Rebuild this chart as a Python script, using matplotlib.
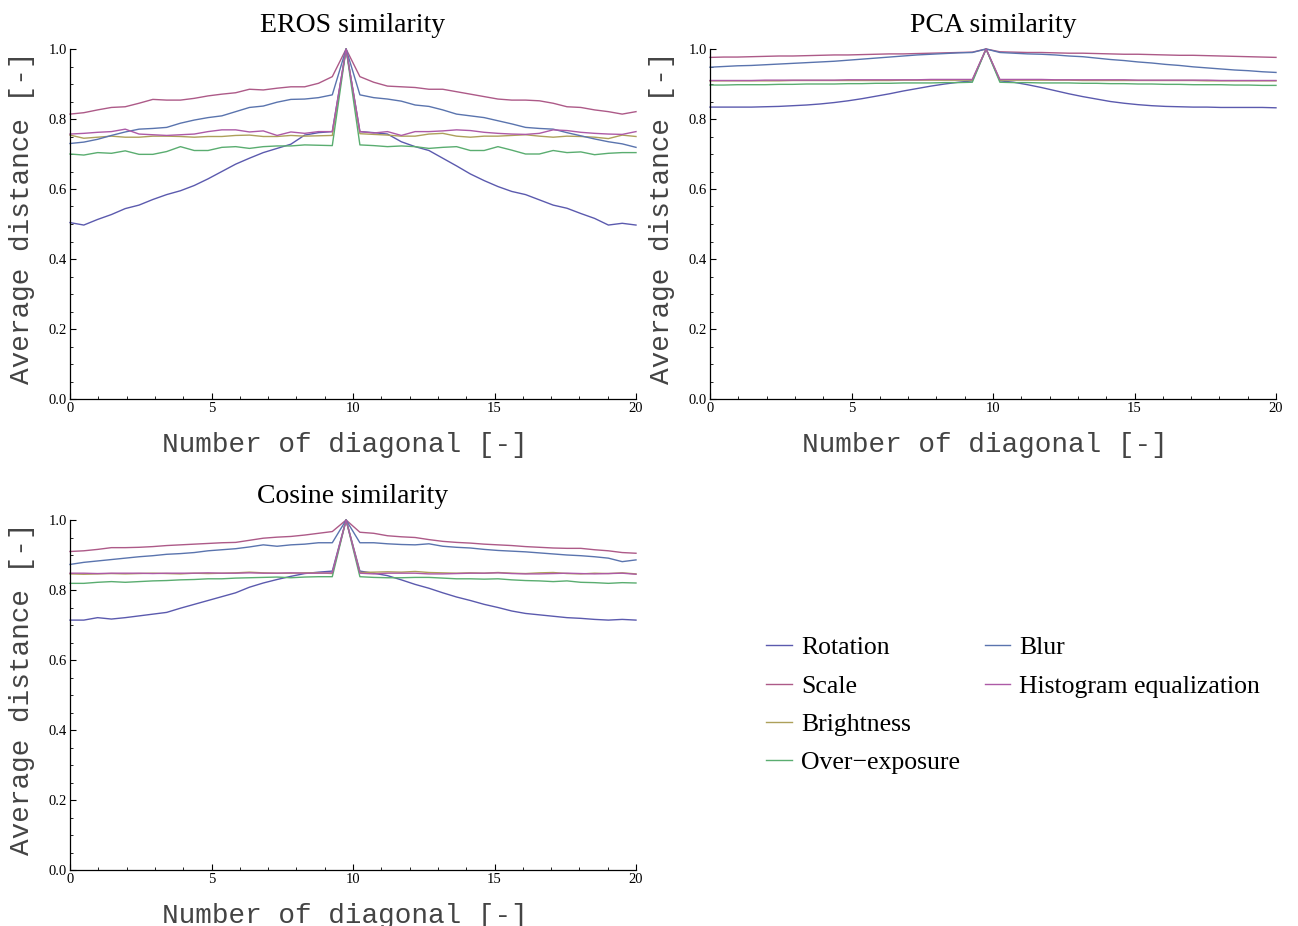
import numpy as np
import matplotlib
matplotlib.use("Agg")
from matplotlib import pyplot as plt
from matplotlib.lines import Line2D
from matplotlib.ticker import MultipleLocator, FormatStrFormatter

# 42 diagonals spread over 0..20, main diagonal at index 20
diagonal = np.linspace(0, 20, 42)

series_names = ["Rotation", "Scale", "Brightness", "Over\u2212exposure", "Blur", "Histogram equalization"]
# Mathematica default palette
series_colors = ["#5b5aae", "#ad5a88", "#ada05a", "#5aad70", "#5a74ae", "#ad5aa6"]

eros_rotation = [0.504, 0.497, 0.513, 0.527, 0.544, 0.554, 0.570, 0.584, 0.595, 0.610, 0.629, 0.650, 0.671, 0.688,
                 0.704, 0.716, 0.728, 0.754, 0.761, 0.764, 1.0,
                 0.764, 0.761, 0.757, 0.735, 0.721, 0.710, 0.688, 0.666, 0.643, 0.624, 0.607, 0.593, 0.584, 0.569,
                 0.554, 0.545, 0.530, 0.516, 0.497, 0.502, 0.497]
eros_scale = [0.814, 0.818, 0.826, 0.833, 0.835, 0.845, 0.856, 0.854, 0.854, 0.859, 0.866, 0.871, 0.875, 0.885,
              0.883, 0.888, 0.892, 0.892, 0.902, 0.921, 1.0,
              0.921, 0.905, 0.894, 0.892, 0.890, 0.885, 0.885, 0.878, 0.871, 0.864, 0.857, 0.854, 0.854, 0.852,
              0.845, 0.835, 0.833, 0.826, 0.821, 0.814, 0.821]
eros_brightness = [0.754, 0.745, 0.748, 0.751, 0.748, 0.748, 0.751, 0.751, 0.750, 0.748, 0.750, 0.750, 0.753, 0.754,
                   0.750, 0.750, 0.753, 0.751, 0.752, 0.753, 1.0,
                   0.758, 0.756, 0.754, 0.751, 0.751, 0.757, 0.759, 0.751, 0.748, 0.751, 0.751, 0.753, 0.755, 0.751,
                   0.748, 0.751, 0.750, 0.748, 0.744, 0.754, 0.750]
eros_overexposure = [0.700, 0.697, 0.704, 0.702, 0.709, 0.699, 0.699, 0.707, 0.721, 0.710, 0.710, 0.719, 0.721, 0.716,
                     0.721, 0.723, 0.723, 0.726, 0.725, 0.724, 1.0,
                     0.726, 0.724, 0.721, 0.723, 0.721, 0.716, 0.719, 0.721, 0.710, 0.710, 0.721, 0.711, 0.700, 0.700,
                     0.710, 0.704, 0.706, 0.698, 0.702, 0.704, 0.704]
eros_blur = [0.730, 0.734, 0.742, 0.753, 0.763, 0.771, 0.773, 0.776, 0.788, 0.797, 0.804, 0.809, 0.821, 0.833,
             0.837, 0.848, 0.856, 0.857, 0.861, 0.869, 1.0,
             0.869, 0.861, 0.857, 0.851, 0.840, 0.836, 0.826, 0.814, 0.809, 0.804, 0.795, 0.786, 0.776, 0.773,
             0.771, 0.761, 0.752, 0.743, 0.735, 0.729, 0.719]
eros_histeq = [0.757, 0.759, 0.762, 0.764, 0.771, 0.757, 0.755, 0.753, 0.755, 0.757, 0.764, 0.769, 0.769, 0.763,
               0.766, 0.753, 0.763, 0.759, 0.764, 0.764, 1.0,
               0.764, 0.760, 0.764, 0.753, 0.764, 0.764, 0.766, 0.769, 0.767, 0.762, 0.759, 0.757, 0.756, 0.759,
               0.769, 0.767, 0.762, 0.759, 0.757, 0.756, 0.764]

pca_rotation = [0.834, 0.834, 0.834, 0.834, 0.835, 0.836, 0.838, 0.840, 0.843, 0.847, 0.852, 0.858, 0.865, 0.872,
                0.880, 0.887, 0.894, 0.900, 0.905, 0.909, 1.0,
                0.909, 0.905, 0.898, 0.890, 0.881, 0.872, 0.864, 0.857, 0.850, 0.845, 0.841, 0.838, 0.836, 0.835,
                0.834, 0.834, 0.833, 0.833, 0.833, 0.833, 0.832]
pca_scale = [0.976, 0.977, 0.977, 0.978, 0.979, 0.980, 0.980, 0.981, 0.982, 0.983, 0.983, 0.984, 0.985, 0.986,
             0.986, 0.987, 0.988, 0.989, 0.990, 0.991, 1.0,
             0.992, 0.991, 0.990, 0.990, 0.989, 0.988, 0.988, 0.987, 0.986, 0.985, 0.985, 0.984, 0.983, 0.982,
             0.982, 0.981, 0.980, 0.979, 0.978, 0.977, 0.976]
pca_brightness = [0.909, 0.909, 0.909, 0.909, 0.909, 0.909, 0.910, 0.910, 0.910, 0.910, 0.910, 0.910, 0.910, 0.910,
                  0.911, 0.911, 0.911, 0.911, 0.911, 0.911, 1.0,
                  0.911, 0.911, 0.911, 0.911, 0.911, 0.911, 0.910, 0.910, 0.910, 0.910, 0.910, 0.910, 0.910, 0.910,
                  0.910, 0.909, 0.909, 0.909, 0.909, 0.909, 0.909]
pca_overexposure = [0.897, 0.897, 0.898, 0.898, 0.898, 0.899, 0.899, 0.900, 0.900, 0.900, 0.901, 0.901, 0.902, 0.902,
                    0.903, 0.903, 0.903, 0.904, 0.904, 0.905, 1.0,
                    0.905, 0.904, 0.904, 0.903, 0.903, 0.903, 0.902, 0.902, 0.901, 0.901, 0.900, 0.900, 0.899, 0.899,
                    0.898, 0.898, 0.898, 0.897, 0.897, 0.896, 0.896]
pca_blur = [0.948, 0.950, 0.952, 0.953, 0.955, 0.957, 0.959, 0.961, 0.963, 0.965, 0.968, 0.971, 0.974, 0.977,
            0.980, 0.983, 0.985, 0.987, 0.989, 0.990, 1.0,
            0.990, 0.988, 0.986, 0.985, 0.983, 0.980, 0.978, 0.974, 0.970, 0.967, 0.963, 0.960, 0.956, 0.953,
            0.949, 0.946, 0.943, 0.940, 0.938, 0.935, 0.933]
pca_histeq = [0.910, 0.910, 0.910, 0.910, 0.911, 0.911, 0.911, 0.911, 0.911, 0.911, 0.912, 0.912, 0.912, 0.912,
              0.912, 0.912, 0.913, 0.913, 0.913, 0.913, 1.0,
              0.913, 0.913, 0.913, 0.913, 0.912, 0.912, 0.912, 0.912, 0.912, 0.912, 0.911, 0.911, 0.911, 0.911,
              0.911, 0.911, 0.910, 0.910, 0.910, 0.910, 0.910]

cos_rotation = [0.714, 0.714, 0.721, 0.717, 0.721, 0.726, 0.731, 0.736, 0.748, 0.759, 0.770, 0.781, 0.792, 0.808,
                0.820, 0.830, 0.839, 0.847, 0.851, 0.854, 1.0,
                0.854, 0.848, 0.841, 0.829, 0.816, 0.805, 0.792, 0.780, 0.770, 0.759, 0.750, 0.740, 0.733, 0.729,
                0.725, 0.721, 0.719, 0.716, 0.714, 0.716, 0.714]
cos_scale = [0.910, 0.912, 0.916, 0.921, 0.921, 0.922, 0.924, 0.927, 0.929, 0.931, 0.933, 0.935, 0.936, 0.942,
             0.948, 0.951, 0.953, 0.957, 0.962, 0.967, 1.0,
             0.965, 0.962, 0.955, 0.952, 0.950, 0.944, 0.939, 0.936, 0.934, 0.931, 0.929, 0.927, 0.924, 0.922,
             0.920, 0.919, 0.919, 0.915, 0.912, 0.907, 0.905]
cos_brightness = [0.846, 0.845, 0.846, 0.847, 0.846, 0.847, 0.848, 0.847, 0.846, 0.848, 0.847, 0.848, 0.849, 0.851,
                  0.849, 0.848, 0.848, 0.849, 0.849, 0.847, 1.0,
                  0.850, 0.851, 0.852, 0.851, 0.853, 0.850, 0.849, 0.848, 0.849, 0.848, 0.850, 0.848, 0.847, 0.849,
                  0.850, 0.847, 0.846, 0.848, 0.847, 0.849, 0.846]
cos_overexposure = [0.819, 0.819, 0.822, 0.824, 0.822, 0.824, 0.826, 0.827, 0.829, 0.830, 0.832, 0.832, 0.834, 0.835,
                    0.836, 0.837, 0.835, 0.837, 0.838, 0.838, 1.0,
                    0.838, 0.836, 0.835, 0.835, 0.836, 0.836, 0.834, 0.832, 0.832, 0.831, 0.832, 0.829, 0.827, 0.826,
                    0.824, 0.826, 0.822, 0.821, 0.819, 0.821, 0.820]
cos_blur = [0.873, 0.879, 0.883, 0.887, 0.891, 0.895, 0.898, 0.902, 0.904, 0.907, 0.912, 0.915, 0.918, 0.923,
            0.929, 0.925, 0.929, 0.931, 0.935, 0.935, 1.0,
            0.935, 0.935, 0.932, 0.930, 0.929, 0.932, 0.925, 0.922, 0.920, 0.916, 0.913, 0.911, 0.909, 0.906,
            0.903, 0.900, 0.898, 0.895, 0.891, 0.881, 0.886]
cos_histeq = [0.848, 0.848, 0.847, 0.848, 0.848, 0.848, 0.847, 0.848, 0.848, 0.848, 0.849, 0.848, 0.848, 0.849,
              0.848, 0.848, 0.849, 0.848, 0.848, 0.849, 1.0,
              0.848, 0.846, 0.848, 0.848, 0.848, 0.846, 0.846, 0.847, 0.848, 0.848, 0.849, 0.847, 0.846, 0.846,
              0.847, 0.848, 0.847, 0.846, 0.847, 0.848, 0.845]

panels = [
    ("EROS similarity", [eros_rotation, eros_scale, eros_brightness, eros_overexposure, eros_blur, eros_histeq]),
    ("PCA similarity", [pca_rotation, pca_scale, pca_brightness, pca_overexposure, pca_blur, pca_histeq]),
    ("Cosine similarity", [cos_rotation, cos_scale, cos_brightness, cos_overexposure, cos_blur, cos_histeq]),
]

W, H = 1298, 926
fig = plt.figure(figsize=(W / 100, H / 100), dpi=100)

# axes boxes in pixels: left, top (y=1.0), bottom (y=0)
boxes = [(70, 49, 399), (710, 49, 399), (70, 520, 870)]
axis_w = 566

serif = "Liberation Serif"
mono = "Liberation Mono"

for (title, data), (left, top, bottom) in zip(panels, boxes):
    ax = fig.add_axes([left / W, 1 - bottom / H, axis_w / W, (bottom - top) / H])
    for values, color in zip(data, series_colors):
        ax.plot(diagonal, values, color=color, linewidth=1.0, clip_on=False)
    ax.set_xlim(0, 20)
    ax.set_ylim(0, 1.0)
    for side in ("top", "right"):
        ax.spines[side].set_visible(False)
    for side in ("left", "bottom"):
        ax.spines[side].set_linewidth(0.9)
    ax.xaxis.set_major_locator(MultipleLocator(5))
    ax.xaxis.set_minor_locator(MultipleLocator(1))
    ax.yaxis.set_major_locator(MultipleLocator(0.2))
    ax.yaxis.set_minor_locator(MultipleLocator(0.05))
    ax.yaxis.set_major_formatter(FormatStrFormatter("%.1f"))
    ax.tick_params(which="major", direction="in", length=4, width=0.8, pad=2)
    ax.tick_params(which="minor", direction="in", length=2, width=0.6)
    for lab in ax.get_xticklabels() + ax.get_yticklabels():
        lab.set_fontfamily(serif)
        lab.set_fontsize(10.5)
    ax.set_title(title, fontfamily=serif, fontsize=20, pad=12)
    ax.set_xlabel("Number of diagonal [-]", fontfamily=mono, fontsize=20, color="#444444")
    ax.xaxis.set_label_coords(0.485, -0.093)
    ax.set_ylabel("Average distance [-]", fontfamily=mono, fontsize=20, color="#444444")
    ax.yaxis.set_label_coords(-0.062, 0.517)

# legend: four entries in the first column, two in the second
handles = [Line2D([], [], color=c, linewidth=1.0) for c in series_colors]
blank = Line2D([], [], color="none")
leg_handles = handles[:4] + handles[4:] + [blank, blank]
leg_labels = series_names[:4] + series_names[4:] + ["", ""]
fig.legend(leg_handles, leg_labels, ncol=2, loc="upper left",
           bbox_to_anchor=(743 / W, 1 - 613 / H), frameon=False,
           prop={"family": serif, "size": 18.5}, handlelength=1.0, handletextpad=0.35,
           labelspacing=0.6, columnspacing=0.97)

fig.savefig("out.png", dpi=100)
